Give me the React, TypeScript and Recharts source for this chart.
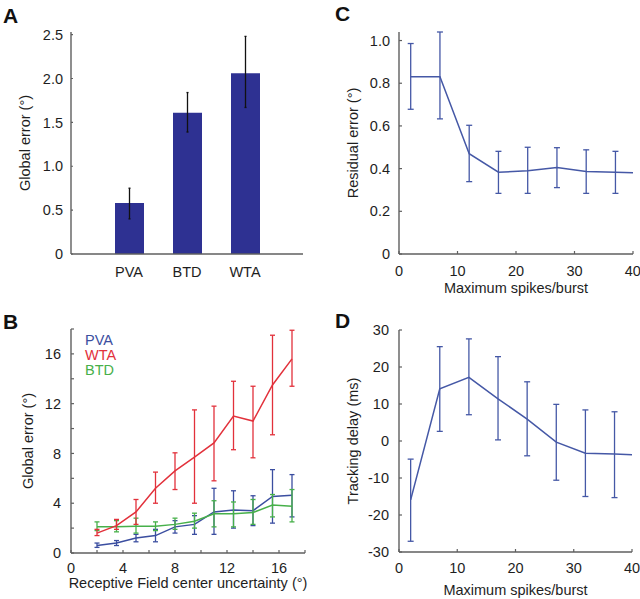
import React from 'react';
import {
  BarChart,
  Bar,
  LineChart,
  Line,
  XAxis,
  YAxis,
  ErrorBar,
  Label,
} from 'recharts';

// A: global error per readout method
const methodNames = ['PVA', 'BTD', 'WTA'];
const methodError = [0.58, 1.61, 2.06];
const methodLow = [0.4, 1.39, 1.67];
const methodHigh = [0.75, 1.84, 2.48];

// B: global error vs receptive field center uncertainty
const rfUncertainty = [2, 3.5, 5, 6.5, 8, 9.5, 11, 12.5, 14, 15.5, 17];
const pvaError = [0.6, 0.8, 1.2, 1.4, 2.1, 2.3, 3.3, 3.45, 3.4, 4.55, 4.65];
const pvaLow = [0.45, 0.6, 0.9, 0.9, 1.6, 1.5, 1.5, 2.0, 2.2, 2.4, 2.9];
const pvaHigh = [0.8, 1.0, 1.5, 1.9, 2.6, 3.0, 5.2, 5.0, 4.6, 6.7, 6.3];
const wtaError = [1.6, 2.2, 3.3, 5.2, 6.6, 7.7, 8.85, 11.0, 10.6, 13.5, 15.6];
const wtaLow = [1.4, 1.9, 2.3, 4.0, 5.1, 4.0, 5.8, 8.3, 7.65, 9.5, 13.4];
const wtaHigh = [1.9, 2.7, 4.3, 6.5, 8.05, 11.5, 11.8, 13.8, 13.4, 17.5, 17.9];
const btdError = [2.1, 2.1, 2.15, 2.15, 2.3, 2.55, 3.15, 3.15, 3.25, 3.85, 3.75];
const btdLow = [1.8, 1.7, 1.6, 1.8, 1.9, 2.0, 2.1, 2.1, 2.3, 2.9, 2.5];
const btdHigh = [2.5, 2.6, 2.8, 2.5, 2.8, 3.2, 4.2, 4.1, 4.3, 4.7, 5.1];
const rfLegendNames = ['PVA', 'WTA', 'BTD'];

// C and D: versus maximum spikes per burst (last point has no error bar)
const spikesPerBurst = [2, 7, 12, 17, 22, 27, 32, 37, 40];
const residualError = [0.83, 0.83, 0.47, 0.383, 0.39, 0.405, 0.386, 0.383, 0.381];
const residualLow = [0.678, 0.633, 0.339, 0.284, 0.284, 0.311, 0.284, 0.284, null];
const residualHigh = [0.986, 1.04, 0.603, 0.481, 0.5, 0.498, 0.488, 0.481, null];
const trackingDelay = [-15.9, 14.1, 17.2, 11.4, 5.9, -0.3, -3.3, -3.5, -3.7];
const trackingLow = [-27.1, 2.6, 7.1, 0.3, -4.0, -10.6, -15.0, -15.3, null];
const trackingHigh = [-4.9, 25.5, 27.6, 22.8, 16.0, 9.9, 8.4, 7.9, null];

const FONT = "'Liberation Sans', Arial, sans-serif";
const AXIS = '#5f5f5f';
const BAR_BLUE = '#2e3192';
const LINE_BLUE = '#4558a6';
const PVA_BLUE = '#3b4ea0';
const WTA_RED = '#e2313b';
const BTD_GREEN = '#47b04a';
const rfColors = [PVA_BLUE, WTA_RED, BTD_GREEN];

const errRange = (v: number, lo: number | null, hi: number | null) =>
  lo == null || hi == null ? undefined : [v - lo, hi - v];

const barData = methodNames.map((name, i) => ({
  name,
  value: methodError[i],
  err: errRange(methodError[i], methodLow[i], methodHigh[i]),
}));

const rfData = rfUncertainty.map((x, i) => ({
  x,
  pva: pvaError[i],
  pvaErr: errRange(pvaError[i], pvaLow[i], pvaHigh[i]),
  wta: wtaError[i],
  wtaErr: errRange(wtaError[i], wtaLow[i], wtaHigh[i]),
  btd: btdError[i],
  btdErr: errRange(btdError[i], btdLow[i], btdHigh[i]),
}));

const residualData = spikesPerBurst.map((x, i) => ({
  x,
  value: residualError[i],
  err: errRange(residualError[i], residualLow[i], residualHigh[i]),
}));

const delayData = spikesPerBurst.map((x, i) => ({
  x,
  value: trackingDelay[i],
  err: errRange(trackingDelay[i], trackingLow[i], trackingHigh[i]),
}));

const tickStyle = { fill: '#1e1e1e', fontSize: 14.5, fontFamily: FONT };
const axisLine = { stroke: AXIS, strokeWidth: 1.4 };
const tickLine = { stroke: AXIS, strokeWidth: 1.2 };

const yTitle = (text: string, x: number) => (props: any) => {
  const vb = props.viewBox || {};
  const cy = vb.y + vb.height / 2;
  return (
    <text
      x={x}
      y={cy}
      transform={`rotate(-90, ${x}, ${cy})`}
      textAnchor="middle"
      dominantBaseline="central"
      fill="#1e1e1e"
      fontSize={14.5}
      fontFamily={FONT}
    >
      {text}
    </text>
  );
};

const xTitle = (text: string, y: number) => (props: any) => {
  const vb = props.viewBox || {};
  const cx = vb.x + vb.width / 2;
  return (
    <text
      x={cx}
      y={y}
      textAnchor="middle"
      dominantBaseline="central"
      fill="#1e1e1e"
      fontSize={14.5}
      fontFamily={FONT}
    >
      {text}
    </text>
  );
};

const panelLetter = (letter: string, left: number, top: number) => (
  <div
    style={{
      position: 'absolute',
      left,
      top,
      fontFamily: FONT,
      fontWeight: 'bold',
      fontSize: 21,
      lineHeight: '21px',
      color: '#111',
    }}
  >
    {letter}
  </div>
);

export default function App() {
  return (
    <div style={{ position: 'absolute', left: 0, top: 0, width: 640, height: 599, background: '#fff' }}>
      {panelLetter('A', 3, 5)}
      {panelLetter('B', 3, 311)}
      {panelLetter('C', 335, 3)}
      {panelLetter('D', 335, 310)}

      <div style={{ position: 'absolute', left: 0, top: 0 }}>
        <BarChart width={320} height={290} data={barData} margin={{ top: 32, right: 17, bottom: 0, left: 0 }}>
          <XAxis
            dataKey="name"
            height={36}
            padding={{ left: 29, right: 29 }}
            axisLine={axisLine}
            tickLine={false}
            tickSize={0}
            tickMargin={13}
            tick={tickStyle}
          />
          <YAxis
            width={71}
            domain={[0, 2.53]}
            ticks={[0, 0.5, 1, 1.5, 2, 2.5]}
            tickFormatter={(v: number) => (v === 0 ? '0' : v.toFixed(1))}
            axisLine={axisLine}
            tickLine={tickLine}
            tickSize={-2}
            tickMargin={10}
            tick={tickStyle}
          >
            <Label content={yTitle('Global error (°)', 25)} />
          </YAxis>
          <Bar dataKey="value" fill={BAR_BLUE} barSize={29} isAnimationActive={false}>
            <ErrorBar dataKey="err" width={1} stroke="#111" strokeWidth={1.3} />
          </Bar>
        </BarChart>
      </div>

      <div style={{ position: 'absolute', left: 0, top: 290 }}>
        <LineChart width={320} height={309} data={rfData} margin={{ top: 39, right: 15, bottom: 0, left: 0 }}>
          <XAxis
            dataKey="x"
            type="number"
            domain={[0, 18]}
            ticks={[0, 2, 4, 6, 8, 10, 12, 14, 16, 18]}
            tickFormatter={(v: number) => (v % 4 === 0 && v < 18 ? String(v) : '')}
            height={46}
            axisLine={axisLine}
            tickLine={tickLine}
            tickSize={-3}
            tickMargin={12.5}
            tick={tickStyle}
          >
            <Label content={xTitle('Receptive Field center uncertainty (°)', 293)} />
          </XAxis>
          <YAxis
            width={71}
            domain={[0, 18]}
            ticks={[0, 2, 4, 6, 8, 10, 12, 14, 16, 18]}
            tickFormatter={(v: number) => (v % 4 === 0 && v < 18 ? String(v) : '')}
            axisLine={axisLine}
            tickLine={tickLine}
            tickSize={-3}
            tickMargin={13}
            tick={tickStyle}
          >
            <Label content={yTitle('Global error (°)', 28)} />
          </YAxis>
          <Line dataKey="pva" stroke={PVA_BLUE} strokeWidth={1.5} dot={false} isAnimationActive={false}>
            <ErrorBar dataKey="pvaErr" width={2.5} stroke={PVA_BLUE} strokeWidth={1.3} />
          </Line>
          <Line dataKey="btd" stroke={BTD_GREEN} strokeWidth={1.5} dot={false} isAnimationActive={false}>
            <ErrorBar dataKey="btdErr" width={2.5} stroke={BTD_GREEN} strokeWidth={1.3} />
          </Line>
          <Line dataKey="wta" stroke={WTA_RED} strokeWidth={1.5} dot={false} isAnimationActive={false}>
            <ErrorBar dataKey="wtaErr" width={2.5} stroke={WTA_RED} strokeWidth={1.3} />
          </Line>
        </LineChart>
      </div>
      <div style={{ position: 'absolute', left: 85, top: 333, fontFamily: FONT, fontSize: 14.5, lineHeight: '15px' }}>
        {rfLegendNames.map((name, i) => (
          <div key={name} style={{ color: rfColors[i] }}>
            {name}
          </div>
        ))}
      </div>

      <div style={{ position: 'absolute', left: 320, top: 0 }}>
        <LineChart width={320} height={300} data={residualData} margin={{ top: 32, right: 7, bottom: 0, left: 0 }}>
          <XAxis
            dataKey="x"
            type="number"
            domain={[0, 40]}
            ticks={[0, 10, 20, 30, 40]}
            height={46}
            axisLine={axisLine}
            tickLine={tickLine}
            tickSize={-3}
            tickMargin={15}
            tick={tickStyle}
          >
            <Label content={xTitle('Maximum spikes/burst', 288)} />
          </XAxis>
          <YAxis
            width={79}
            domain={[0, 1.04]}
            ticks={[0, 0.2, 0.4, 0.6, 0.8, 1]}
            tickFormatter={(v: number) => (v === 0 ? '0' : v.toFixed(1))}
            axisLine={axisLine}
            tickLine={tickLine}
            tickSize={-3}
            tickMargin={12}
            tick={tickStyle}
          >
            <Label content={yTitle('Residual error (°)', 33)} />
          </YAxis>
          <Line dataKey="value" stroke={LINE_BLUE} strokeWidth={1.5} dot={false} isAnimationActive={false}>
            <ErrorBar dataKey="err" width={3} stroke={LINE_BLUE} strokeWidth={1.3} />
          </Line>
        </LineChart>
      </div>

      <div style={{ position: 'absolute', left: 320, top: 300 }}>
        <LineChart width={320} height={299} data={delayData} margin={{ top: 30, right: 8, bottom: 0, left: 0 }}>
          <XAxis
            dataKey="x"
            type="number"
            domain={[0, 40]}
            ticks={[0, 10, 20, 30, 40]}
            height={47}
            axisLine={axisLine}
            tickLine={tickLine}
            tickSize={-3}
            tickMargin={14}
            tick={tickStyle}
          >
            <Label content={xTitle('Maximum spikes/burst', 290)} />
          </XAxis>
          <YAxis
            width={79}
            domain={[-30, 30]}
            ticks={[-30, -20, -10, 0, 10, 20, 30]}
            axisLine={axisLine}
            tickLine={tickLine}
            tickSize={-3}
            tickMargin={13}
            tick={tickStyle}
          >
            <Label content={yTitle('Tracking delay (ms)', 33)} />
          </YAxis>
          <Line dataKey="value" stroke={LINE_BLUE} strokeWidth={1.5} dot={false} isAnimationActive={false}>
            <ErrorBar dataKey="err" width={3} stroke={LINE_BLUE} strokeWidth={1.3} />
          </Line>
        </LineChart>
      </div>
    </div>
  );
}
